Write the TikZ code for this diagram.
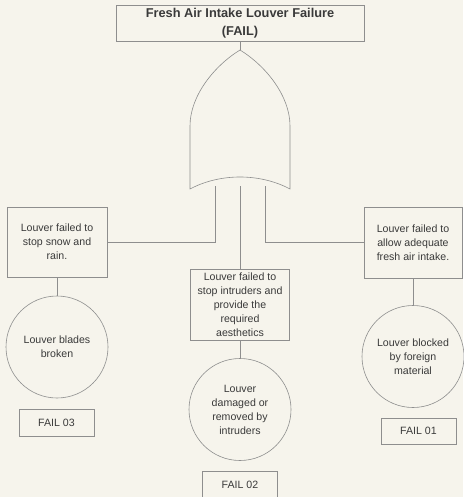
\documentclass[tikz,border=0pt]{standalone}
\usepackage{fontspec}
\setmainfont{Liberation Sans}
\definecolor{paper}{HTML}{F6F4EC}
\definecolor{ink}{HTML}{3A3A3A}
\definecolor{wire}{HTML}{8E8E8E}
\begin{document}
\begin{tikzpicture}[x=1pt,y=-1pt,line width=0.6pt,
  every node/.style={text=ink,font=\fontsize{10.6}{14}\selectfont,align=center,inner sep=0pt},
  eventbox/.style={draw=wire,rectangle},
  basic/.style={draw=wire,circle,minimum size=102pt},
  tag/.style={draw=wire,rectangle,minimum width=75pt,minimum height=27pt},
  wirel/.style={draw=wire}]
% page
\fill[paper] (0,0) rectangle (463,497);
\useasboundingbox (0,0) rectangle (463,497);

% top event
\node[eventbox,minimum width=248pt,minimum height=36pt,
      font=\fontsize{12.8}{18}\selectfont\bfseries] (top) at (240,23)
  {Fresh Air Intake Louver Failure\\(FAIL)};

% intermediate events
\node[eventbox,minimum width=100pt,minimum height=70pt] (left) at (57,242)
  {Louver failed to\\stop snow and\\rain.};
\node[eventbox,minimum width=99pt,minimum height=71pt] (mid) at (240,304.5)
  {Louver failed to\\stop intruders and\\provide the\\required\\aesthetics};
\node[eventbox,minimum width=98pt,minimum height=71pt] (right) at (413,242.5)
  {Louver failed to\\allow adequate\\fresh air intake.};

% basic events
\node[basic] (c1) at (57,347) {Louver blades\\broken};
\node[basic] (c2) at (240,409.5) {Louver\\damaged or\\removed by\\intruders};
\node[basic] (c3) at (413,356.5) {Louver blocked\\by foreign\\material};

% identifiers
\node[tag] (f3) at (56.5,422.5) {FAIL 03};
\node[tag] (f2) at (240,485) {FAIL 02};
\node[tag,minimum height=26pt] (f1) at (418.5,431) {FAIL 01};

% OR gate connection points
\coordinate (gtop) at (240,50);
\coordinate (ga) at (215,186);
\coordinate (gb) at (240,186);
\coordinate (gc) at (265,186);

% connectors
\draw[wirel] (top.south) -- (gtop);
\draw[wirel] (ga) |- (left.east);
\draw[wirel] (gb) -- (mid.north);
\draw[wirel] (gc) |- (right.west);
\draw[wirel] (left.south) -- (c1.north);
\draw[wirel] (mid.south) -- (c2.north);
\draw[wirel] (right.south) -- (c3.north);

% OR gate body
\filldraw[draw=wire,fill=paper] (190,189) -- (190,126)
  .. controls (190,96) and (214,66) .. (gtop)
  .. controls (266,66) and (290,96) .. (290,126)
  -- (290,189)
  .. controls (260,173) and (220,173) .. cycle;
\end{tikzpicture}
\end{document}
